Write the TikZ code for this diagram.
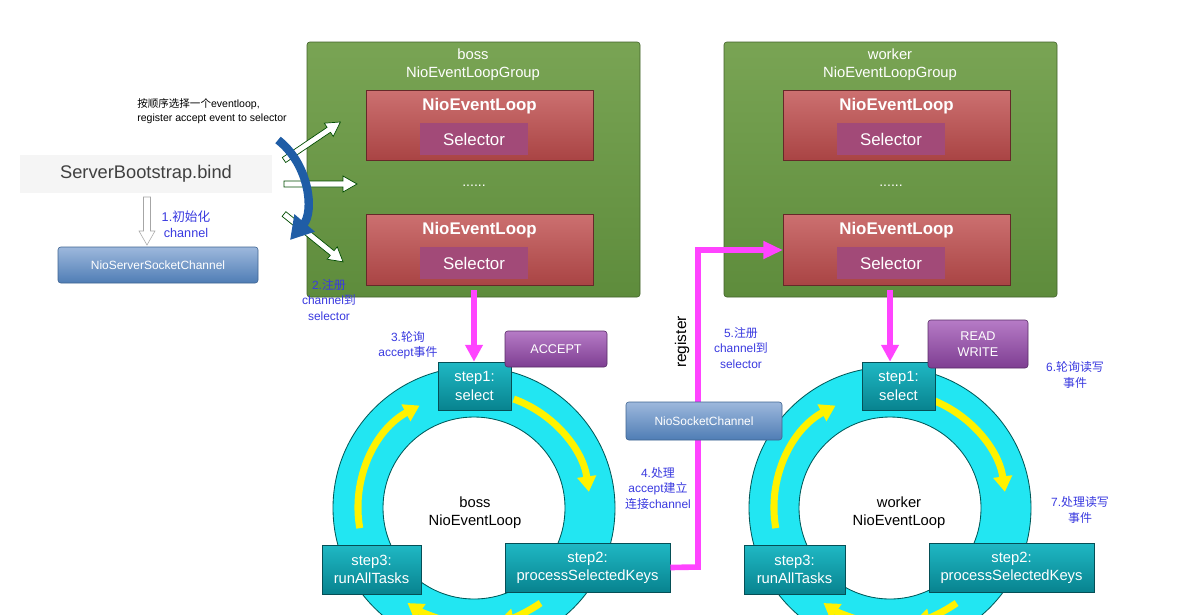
\documentclass[tikz,border=0pt]{standalone}
\usepackage{fontspec}
\setmainfont{Liberation Sans}
\newfontfamily\cjk{Noto Sans CJK SC}
\usetikzlibrary{arrows.meta,calc}
\definecolor{lbl}{HTML}{3A3AE0}
\definecolor{mag}{HTML}{FF44FF}
\definecolor{gtop}{HTML}{79A454}
\definecolor{gbot}{HTML}{5E8C3C}
\definecolor{rtop}{HTML}{CC7070}
\definecolor{rbot}{HTML}{A94444}
\definecolor{selc}{HTML}{A24A78}
\definecolor{ttop}{HTML}{1FB8C4}
\definecolor{tbot}{HTML}{08838F}
\definecolor{ringc}{HTML}{22E6F2}
\definecolor{ctop}{HTML}{9DB8DC}
\definecolor{cbot}{HTML}{4F7DB5}
\definecolor{ptop}{HTML}{B67BC6}
\definecolor{pbot}{HTML}{7E3E92}
\definecolor{barc}{HTML}{1F5DA6}
\begin{document}
\begin{tikzpicture}[x=0.025cm,y=0.025cm,
 grp/.style={draw=gbot!70!black,top color=gtop,bottom color=gbot,rounded corners=2pt},
 loopbox/.style={draw=rbot!60!black,top color=rtop,bottom color=rbot,inner sep=0},
 selbox/.style={draw=none,fill=selc,inner sep=0,text=white,font=\fontsize{12}{14}\selectfont},
 stepbox/.style={draw=tbot!60!black,top color=ttop,bottom color=tbot,inner sep=0,text=white,font=\fontsize{10.5}{13}\selectfont,align=center},
 lab/.style={text=lbl,font=\fontsize{8.5}{11}\selectfont,align=center},
 tag/.style={draw=pbot!70!black,top color=ptop,bottom color=pbot,rounded corners=2pt,inner sep=0,text=white,font=\fontsize{9}{11}\selectfont,align=center},
 chan/.style={draw=cbot!80!black,top color=ctop,bottom color=cbot,rounded corners=2pt,inner sep=0,text=white,font=\fontsize{8.5}{10}\selectfont},
 ring/.style={draw=teal!70!black,fill=ringc,even odd rule,line width=0.6pt},
 yarr/.style={yellow,line width=5pt,-{Triangle[width=13pt,length=11pt]}},
 marr/.style={mag,line width=4pt,-{Triangle[width=12pt,length=12pt]}},
 hol/.style={draw=green!30!black,fill=white,line width=0.5pt},
]
\clip (0,0) rectangle (1200,-614);
\fill[white] (0,0) rectangle (1200,-614);
\newcommand\holarr[3]{\begin{scope}[shift={#1},rotate=#2]
 \draw[hol] (0,-3)--(#3-14,-3)--(#3-14,-8)--(#3,0)--(#3-14,8)--(#3-14,3)--(0,3)--cycle;\end{scope}}
% groups
\path[grp] (307,-42) rectangle (640,-297);
\path[grp] (724,-42) rectangle (1057,-297);
\node[align=center,text=white,font=\fontsize{10.5}{13}\selectfont,anchor=north] (bt) at (473,-44) {boss\\NioEventLoopGroup};
\node[align=center,text=white,font=\fontsize{10.5}{13}\selectfont,anchor=north] (wt) at (890,-44) {worker\\NioEventLoopGroup};
\foreach \dx/\p in {0/b,417/w}{
 \node[loopbox,minimum width=227*0.025cm,minimum height=70*0.025cm,anchor=north west] (\p l1) at (366+\dx,-90) {};
 \node[anchor=north,text=white,font=\bfseries\fontsize{12}{14}\selectfont] at (479.5+\dx,-93) {NioEventLoop};
 \node[selbox,minimum width=108*0.025cm,minimum height=32*0.025cm] (\p s1) at (474+\dx,-139) {Selector};
 \node[loopbox,minimum width=227*0.025cm,minimum height=71*0.025cm,anchor=north west] (\p l2) at (366+\dx,-214) {};
 \node[anchor=north,text=white,font=\bfseries\fontsize{12}{14}\selectfont] at (479.5+\dx,-217) {NioEventLoop};
 \node[selbox,minimum width=108*0.025cm,minimum height=32*0.025cm] (\p s2) at (474+\dx,-263) {Selector};
 \node[text=white,font=\fontsize{10}{12}\selectfont] (\p d) at (474+\dx,-186) {......};
}
% left side
\fill[gray!8] (20,-155) rectangle (272,-193);
\node[font=\fontsize{13}{15}\selectfont,text=black!75] (sb) at (146,-174) {ServerBootstrap.bind};
\node[chan,minimum width=200*0.025cm,minimum height=36*0.025cm] (nssc) at (158,-265) {NioServerSocketChannel};
\begin{scope}[shift={(147,-197)},rotate=-90]
 \draw[draw=gray!70,fill=white] (0,-3.5)--(34,-3.5)--(34,-8)--(48,0)--(34,8)--(34,3.5)--(0,3.5)--cycle;
\end{scope}
\node[lab,font=\fontsize{9}{11}\selectfont] (l1) at (186,-224) {1.{\cjk 初始化}\\channel};
\node[font=\fontsize{7.5}{9.5}\selectfont,align=left] (top) at (212,-111) {{\cjk 按顺序选择一个}eventloop,\\register accept event to selector};
\holarr{(284,-160)}{34}{68}
\holarr{(284,-184)}{0}{73}
\holarr{(284,-214)}{-39}{76}
\draw[barc,line width=6pt,-{Triangle[width=18pt,length=16pt]}] (278,-140) .. controls (310,-165) and (314,-212) .. (290,-240);
\node[lab] (l2) at (329,-300) {2.{\cjk 注册}\\channel{\cjk 到}\\selector};
% rings
\foreach \cx in {474,890}{
 \path[ring] (\cx,-508) circle (141) (\cx,-508) circle (91);
 \draw[yarr] ($(\cx,-508)+(70:116)$) arc (70:8:116);
 \draw[yarr] ($(\cx,-508)+(190:116)$) arc (190:118:116);
 \draw[yarr] ($(\cx,-508)+(-55:116)$) arc (-55:-78:116);
 \draw[yarr] ($(\cx,-508)+(-105:116)$) arc (-105:-125:116);
}
\node[stepbox,minimum width=73*0.025cm,minimum height=48*0.025cm] (bs1) at (474.5,-386) {step1:\\select};
\node[stepbox,minimum width=165*0.025cm,minimum height=49*0.025cm] (bs2) at (587.5,-567.5) {step2:\\processSelectedKeys};
\node[stepbox,minimum width=99*0.025cm,minimum height=49*0.025cm] (bs3) at (371.5,-569.5) {step3:\\runAllTasks};
\node[stepbox,minimum width=73*0.025cm,minimum height=48*0.025cm] (ws1) at (898.5,-386) {step1:\\select};
\node[stepbox,minimum width=165*0.025cm,minimum height=49*0.025cm] (ws2) at (1011.5,-567.5) {step2:\\processSelectedKeys};
\node[stepbox,minimum width=101*0.025cm,minimum height=49*0.025cm] (ws3) at (794.5,-569.5) {step3:\\runAllTasks};
\node[align=center,font=\fontsize{10.5}{13}\selectfont] (bc) at (475,-513) {boss\\NioEventLoop};
\node[align=center,font=\fontsize{10.5}{13}\selectfont] (wc) at (899,-513) {worker\\NioEventLoop};
% magenta
\coordinate (m1) at (474,-290);
\coordinate (m2) at (890,-290);
\draw[marr] (m1) -- (m1 |- bs1.north);
\draw[marr] (m2) -- (m2 |- ws1.north);
\coordinate (c1) at (698,-567);
\coordinate (c2) at (698,-250);
\draw[mag,line width=4pt,-{Triangle[width=12pt,length=14pt]}] (bs2.east) -- (c1) -- (c2) -- (wl2.west |- c2);
\node[rotate=90,font=\fontsize{11}{13}\selectfont] (reg) at (682,-342) {register};
\node[chan,minimum width=156*0.025cm,minimum height=38*0.025cm] (nsc) at (704,-421) {NioSocketChannel};
\node[tag,minimum width=102*0.025cm,minimum height=36*0.025cm] (acc) at (556,-349) {ACCEPT};
\node[tag,minimum width=100*0.025cm,minimum height=48*0.025cm] (rw) at (978,-344) {READ\\WRITE};
\node[lab] (l3) at (408,-345) {3.{\cjk 轮询}\\accept{\cjk 事件}};
\node[lab] (l4) at (658,-488) {4.{\cjk 处理}\\accept{\cjk 建立}\\{\cjk 连接}channel};
\node[lab] (l5) at (741,-348) {5.{\cjk 注册}\\channel{\cjk 到}\\selector};
\node[lab] (l6) at (1075,-375) {6.{\cjk 轮询读写}\\{\cjk 事件}};
\node[lab] (l7) at (1080,-510) {7.{\cjk 处理读写}\\{\cjk 事件}};
\end{tikzpicture}
\end{document}
